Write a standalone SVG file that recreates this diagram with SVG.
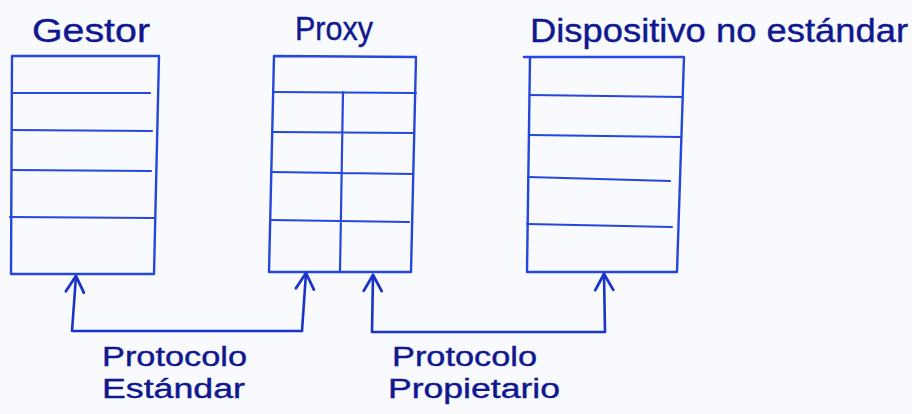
<svg xmlns="http://www.w3.org/2000/svg" width="912" height="414" viewBox="0 0 912 414">
<style>
.bg{fill:#f8fafd}
.box{fill:none;stroke:#2547dc;stroke-width:2.4;stroke-linejoin:round;stroke-linecap:round}
.row{fill:none;stroke:#2547dc;stroke-width:2.2;stroke-linecap:round}
.conn{fill:none;stroke:#1a33c8;stroke-width:2.6;stroke-linejoin:round;stroke-linecap:round}
.t{font-family:"Liberation Sans","Open Sans",sans-serif;fill:#10188f;stroke:#10188f;stroke-width:0.4}
.lab{font-size:33px}
.plab{font-size:27px}
</style>
<defs>
<marker id="arr" viewBox="-20 -12 24 24" refX="0" refY="0" markerWidth="24" markerHeight="24" markerUnits="userSpaceOnUse" orient="auto-start-reverse" overflow="visible">
<path d="M-16,-9 L0,0 L-16,9" fill="none" stroke="#1a33c8" stroke-width="2.8" stroke-linecap="round" stroke-linejoin="round"/>
</marker>
</defs>
<rect class="bg" x="0" y="0" width="912" height="414"/>

<g id="gestor">
<text class="t lab" x="32" y="42" textLength="118" lengthAdjust="spacingAndGlyphs">Gestor</text>
<path class="box" d="M12,56 L159,56 L154,274 L11,274 Z"/>
<path class="row" d="M12,93 L150,93 M12,130 L152,131 M12,170 L151,171 M10,217 L154,218"/>
</g>

<g id="proxy">
<text class="t lab" x="295" y="40" textLength="78" lengthAdjust="spacingAndGlyphs">Proxy</text>
<path class="box" d="M274,56 L416,57 L411,272 L269,272 Z"/>
<path class="row" d="M274,92 L416,93 M273,132 L414,133 M271,172 L413,174 M270,220 L409,222 M343,92 L340,272"/>
</g>

<g id="dispositivo">
<text class="t lab" x="530" y="42" textLength="378" lengthAdjust="spacingAndGlyphs">Dispositivo no estándar</text>
<path class="box" d="M524,57 L684,57 L677,272 L527,272 L530,57"/>
<path class="row" d="M530,95 L682,97 M529,135 L681,137 M528,177 L670,181 M527,224 L672,227"/>
</g>

<g id="connectors">
<path class="conn" d="M76,276 L72,331 L302,331 L306,273" marker-start="url(#arr)" marker-end="url(#arr)"/>
<path class="conn" d="M373,275 L372,332 L605,332 L604,274" marker-start="url(#arr)" marker-end="url(#arr)"/>
</g>

<g id="label-estandar">
<text class="t plab" x="102" y="366" textLength="145" lengthAdjust="spacingAndGlyphs">Protocolo</text>
<text class="t plab" x="102" y="398" textLength="143" lengthAdjust="spacingAndGlyphs">Estándar</text>
</g>
<g id="label-propietario">
<text class="t plab" x="392" y="366" textLength="145" lengthAdjust="spacingAndGlyphs">Protocolo</text>
<text class="t plab" x="388" y="398" textLength="172" lengthAdjust="spacingAndGlyphs">Propietario</text>
</g>
</svg>
